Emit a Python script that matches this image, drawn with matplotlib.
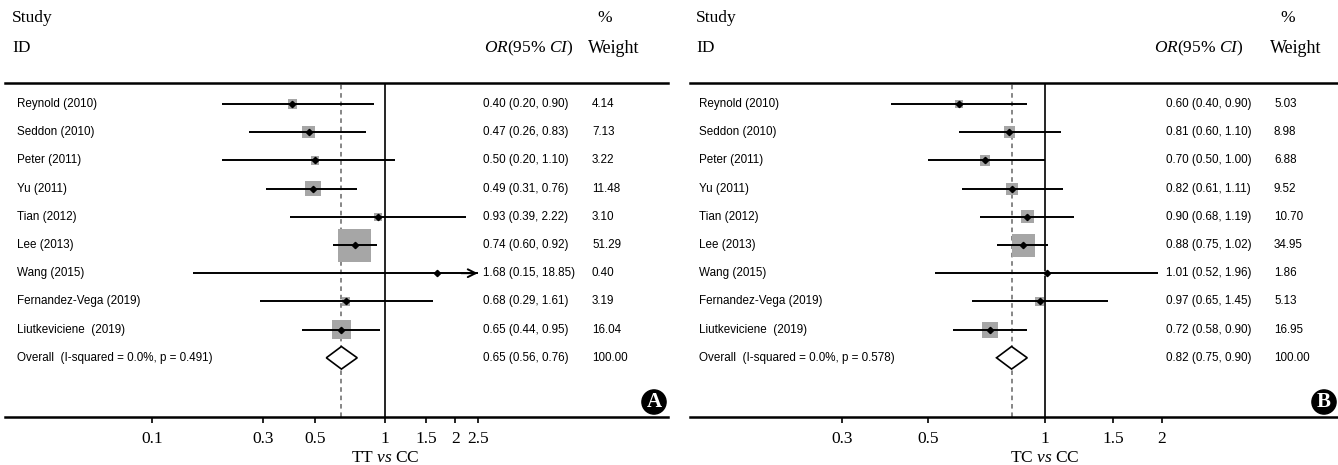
import numpy as np
import matplotlib
matplotlib.use("Agg")
import matplotlib.pyplot as plt
from matplotlib import transforms

plt.rcParams['font.family'] = ['Liberation Serif', 'DejaVu Serif']
plt.rcParams['mathtext.fontset'] = 'custom'
plt.rcParams['mathtext.rm'] = 'Liberation Serif'
plt.rcParams['mathtext.it'] = 'Liberation Serif:italic'

# ---- donnees ----
studies = ["Reynold (2010)", "Seddon (2010)", "Peter (2011)", "Yu (2011)", "Tian (2012)",
           "Lee (2013)", "Wang (2015)", "Fernandez-Vega (2019)", "Liutkeviciene  (2019)"]

or_A = [0.40, 0.47, 0.50, 0.49, 0.93, 0.74, 1.68, 0.68, 0.65]
lo_A = [0.20, 0.26, 0.20, 0.31, 0.39, 0.60, 0.15, 0.29, 0.44]
hi_A = [0.90, 0.83, 1.10, 0.76, 2.22, 0.92, 18.85, 1.61, 0.95]
w_A = [4.14, 7.13, 3.22, 11.48, 3.10, 51.29, 0.40, 3.19, 16.04]
overall_A = (0.65, 0.56, 0.76)
overall_label_A = "Overall  (I-squared = 0.0%, p = 0.491)"
ticks_A = [0.1, 0.3, 0.5, 1, 1.5, 2, 2.5]
xlabel_A = r"TT $\mathit{vs}$ CC"

or_B = [0.60, 0.81, 0.70, 0.82, 0.90, 0.88, 1.01, 0.97, 0.72]
lo_B = [0.40, 0.60, 0.50, 0.61, 0.68, 0.75, 0.52, 0.65, 0.58]
hi_B = [0.90, 1.10, 1.00, 1.11, 1.19, 1.02, 1.96, 1.45, 0.90]
w_B = [5.03, 8.98, 6.88, 9.52, 10.70, 34.95, 1.86, 5.13, 16.95]
overall_B = (0.82, 0.75, 0.90)
overall_label_B = "Overall  (I-squared = 0.0%, p = 0.578)"
ticks_B = [0.3, 0.5, 1, 1.5, 2]
xlabel_B = r"TC $\mathit{vs}$ CC"

# ---- mise en page (pixels) ----
W, H = 1338, 465
ROW0, DROW = 104, 28.2   # centre de la 1ere ligne, pas entre lignes
Y_TOP, Y_AXE = 83, 417

fig = plt.figure(figsize=(W / 100, H / 100), dpi=100)


def row_of(py):
    return (py - ROW0) / DROW


def panel(x0, x1, x_one, px_dec, studies, ors, los, his, ws, overall, overall_label,
          ticks, xlabel, letter, col_lab, col_or, col_w, x_study, x_pct, x_orhead,
          box_max):
    ax = fig.add_axes([x0 / W, 1 - Y_AXE / H, (x1 - x0) / W, (Y_AXE - Y_TOP) / H])
    ax.set_xscale('log')
    ax.set_xlim(10 ** ((x0 - x_one) / px_dec), 10 ** ((x1 - x_one) / px_dec))
    ax.set_ylim(row_of(Y_AXE), row_of(Y_TOP))
    for s in ['left', 'right']:
        ax.spines[s].set_visible(False)
    ax.spines['top'].set_linewidth(1.8)
    ax.spines['bottom'].set_linewidth(1.8)
    ax.set_yticks([])
    ax.set_xticks(ticks)
    ax.set_xticklabels(['%g' % t for t in ticks])
    ax.xaxis.set_minor_locator(matplotlib.ticker.NullLocator())
    ax.tick_params(axis='x', direction='out', length=4, width=1.2, labelsize=12.5, pad=6)

    rows = np.arange(len(studies))
    xmin, xmax = min(ticks), max(ticks)
    # traits verticaux
    ax.axvline(1, color='black', lw=1.2, zorder=1)
    ax.axvline(overall[0], color='#666666', lw=1.1, ls=(0, (3, 2.5)), zorder=1)
    # boites (aire proportionnelle au poids)
    side = box_max * np.sqrt(np.array(ws) / max(ws)) * 0.72
    ax.scatter(ors, rows, s=side ** 2, marker='s', color='#a6a6a6', linewidths=0, zorder=2)
    # intervalles
    lo_c = np.clip(los, xmin, xmax)
    hi_c = np.clip(his, xmin, xmax)
    ax.hlines(rows, lo_c, hi_c, color='black', lw=1.4, zorder=3)
    for r, h in zip(rows, his):
        if h > xmax:
            ax.annotate('', xy=(xmax, r), xytext=(xmax * 0.85, r),
                        arrowprops=dict(arrowstyle='->', lw=1.4, color='black',
                                        mutation_scale=14, shrinkA=0, shrinkB=0), zorder=3)
    ax.plot(ors, rows, 'D', color='black', ms=3.2, zorder=4)
    # losange global
    r_ov = len(studies)
    est, lo, hi = overall
    hh = 0.4
    ax.fill([lo, est, hi, est], [r_ov, r_ov - hh, r_ov, r_ov + hh],
            facecolor='white', edgecolor='black', lw=1.2, zorder=3)

    # textes
    tr = transforms.blended_transform_factory(fig.transFigure, ax.transData)
    sans = dict(family='Liberation Sans', fontsize=8.4, va='center', transform=tr, clip_on=False)
    for r, name, o, l, h, w in zip(rows, studies, ors, los, his, ws):
        ax.text(col_lab / W, r, name, ha='left', **sans)
        ax.text(col_or / W, r, '%.2f (%.2f, %.2f)' % (o, l, h), ha='left', **sans)
        ax.text(col_w / W, r, '%.2f' % w, ha='left', **sans)
    ax.text(col_lab / W, r_ov, overall_label, ha='left', **sans)
    ax.text(col_or / W, r_ov, '%.2f (%.2f, %.2f)' % overall, ha='left', **sans)
    ax.text(col_w / W, r_ov, '100.00', ha='left', **sans)

    serif = dict(fontsize=12.5, va='center', transform=tr, clip_on=False)
    ax.text(x_study / W, row_of(18), 'Study', ha='left', **serif)
    ax.text(x_study / W, row_of(48), 'ID', ha='left', **serif)
    ax.text(x_pct / W, row_of(18), '%', ha='left', **serif)
    ax.text(x_orhead / W, row_of(48), r'$\mathit{OR}$(95% $\mathit{CI}$)', ha='right', **serif)
    ax.text((col_w - 4) / W, row_of(48), 'Weight', ha='left', fontsize=13, va='center',
            transform=tr, clip_on=False)

    # titre d'axe centre sur 1
    ax.text(1, row_of(458), xlabel, ha='center', va='center', fontsize=12.5,
            transform=ax.transData, clip_on=False)
    # pastille A / B
    ax.text((x1 - 14) / W, row_of(402), letter, ha='center', va='center', color='white',
            fontsize=15, fontweight='bold', transform=tr, clip_on=False, zorder=6,
            bbox=dict(boxstyle='circle,pad=0.1', facecolor='black', edgecolor='black'))
    return ax


panel(5, 668, 385, 233, studies, or_A, lo_A, hi_A, w_A, overall_A, overall_label_A,
      ticks_A, xlabel_A, 'A', 17, 483, 592, 12, 597, 574, 33)
panel(690, 1338, 1045, 388, studies, or_B, lo_B, hi_B, w_B, overall_B, overall_label_B,
      ticks_B, xlabel_B, 'B', 699, 1166, 1274, 696, 1280, 1244, 23)

fig.savefig('out.png', dpi=100)
